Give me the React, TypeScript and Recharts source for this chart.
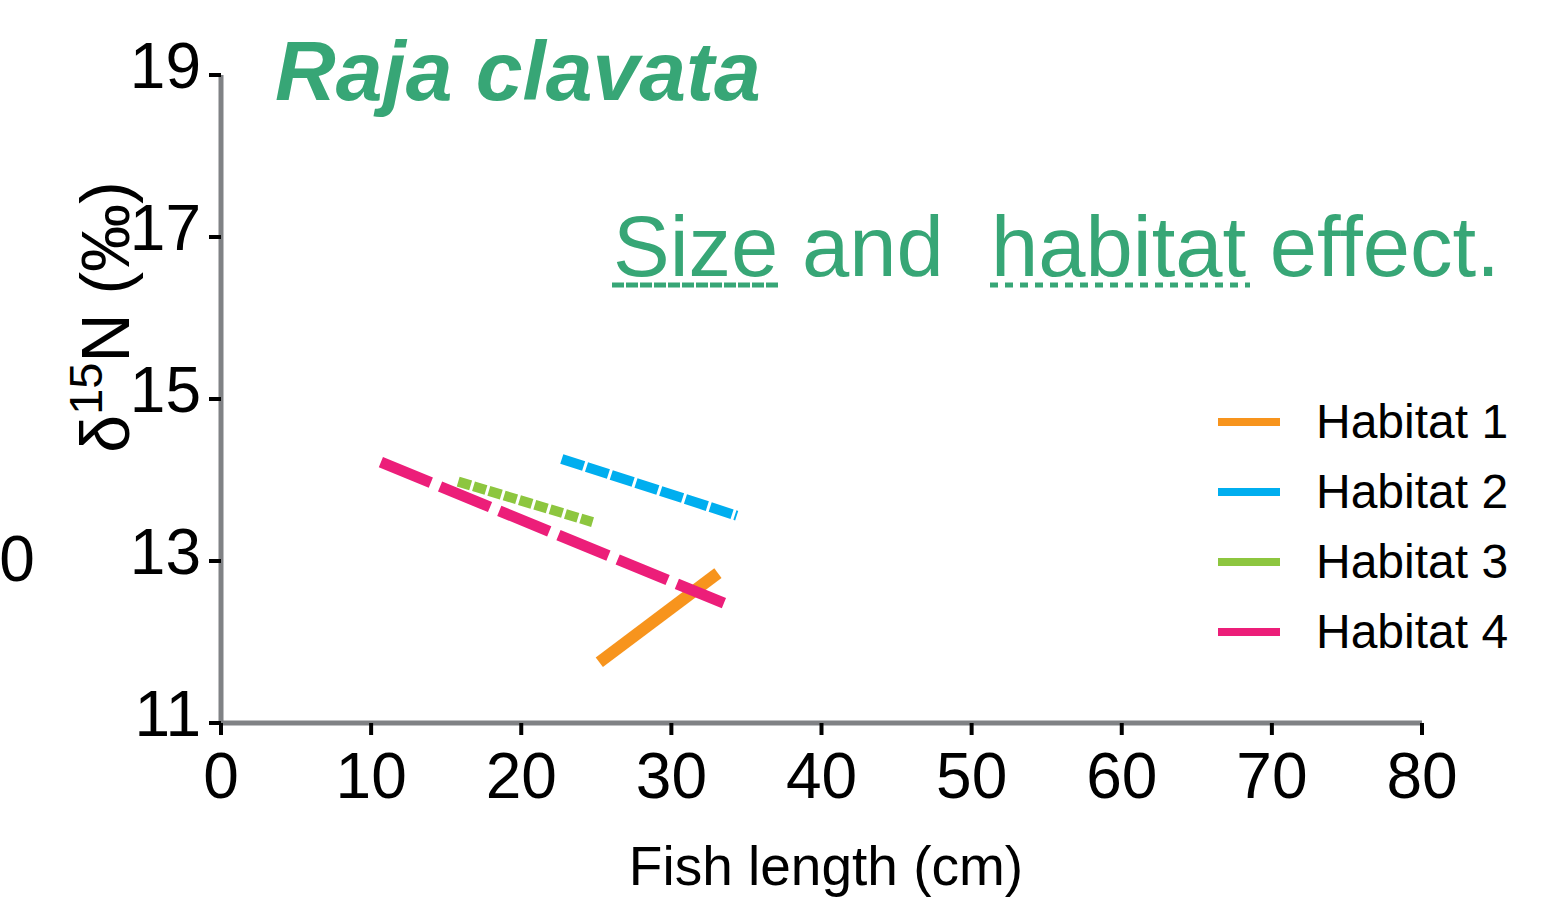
import * as React from 'react';
import { LineChart, Line, XAxis, YAxis, Legend } from 'recharts';

const FONT = '"Liberation Sans", Arial, Helvetica, sans-serif';
const GREEN = '#37A676';

// regression lines, two end points each (length cm, d15N)
const habitat1 = [
	{ x: 25.2, y: 11.75 },
	{ x: 33.1, y: 12.85 }
];
const habitat2 = [
	{ x: 22.7, y: 14.26 },
	{ x: 34.35, y: 13.56 }
];
const habitat3 = [
	{ x: 15.8, y: 13.98 },
	{ x: 24.75, y: 13.48 }
];
const habitat4 = [
	{ x: 10.65, y: 14.22 },
	{ x: 33.5, y: 12.48 }
];

const xTicks = [0, 10, 20, 30, 40, 50, 60, 70, 80];
const yTicks = [11, 13, 15, 17, 19];

const series = [
	{ name: 'Habitat 1', data: habitat1, color: '#F7941D', width: 12, dash: undefined },
	{ name: 'Habitat 2', data: habitat2, color: '#00AEEF', width: 10, dash: '23 3' },
	{ name: 'Habitat 3', data: habitat3, color: '#8DC63F', width: 10, dash: '13 3' },
	{ name: 'Habitat 4', data: habitat4, color: '#EC1E79', width: 11, dash: '54 10' }
];

const YTick = (props: any) => {
	const { x, y, payload } = props;
	return (
		<text x={x} y={y - 9} textAnchor="end" dominantBaseline="central" fontSize={64} fontFamily={FONT} fill="#000">
			{payload.value}
		</text>
	);
};

const XTick = (props: any) => {
	const { x, y, payload } = props;
	return (
		<text x={x} y={y + 63} textAnchor="middle" fontSize={64} fontFamily={FONT} fill="#000">
			{payload.value}
		</text>
	);
};

const renderLegend = () => (
	<div style={{ fontFamily: FONT }}>
		{series.map(s => (
			<div key={s.name} style={{ height: 70, display: 'flex', alignItems: 'center' }}>
				<svg width={62} height={10} style={{ marginRight: 36 }}>
					<line x1={0} y1={5} x2={62} y2={5} stroke={s.color} strokeWidth={8} />
				</svg>
				<span style={{ fontSize: 48, color: '#000', lineHeight: '70px' }}>{s.name}</span>
			</div>
		))}
	</div>
);

export default function App() {
	return (
		<div style={{ position: 'absolute', left: 0, top: 0, width: 1555, height: 900, background: '#fff' }}>
			<LineChart width={1555} height={900} margin={{ top: 75, right: 133, bottom: 77, left: 121 }}>
				<XAxis
					type="number"
					dataKey="x"
					domain={[0, 80]}
					ticks={xTicks}
					interval={0}
					height={100}
					tickSize={12}
					tickMargin={0}
					axisLine={{ stroke: '#808285', strokeWidth: 5 }}
					tickLine={{ stroke: '#000', strokeWidth: 4 }}
					tick={<XTick />}
				/>
				<YAxis
					type="number"
					dataKey="y"
					domain={[11, 19]}
					ticks={yTicks}
					interval={0}
					width={100}
					tickSize={12}
					tickMargin={8}
					axisLine={{ stroke: '#808285', strokeWidth: 5 }}
					tickLine={{ stroke: '#000', strokeWidth: 4 }}
					tick={<YTick />}
				/>
				<Legend
					layout="horizontal"
					align="center"
					verticalAlign="middle"
					content={renderLegend}
					wrapperStyle={{ left: 1218, top: 387, width: 330 }}
				/>
				{series.map(s => (
					<Line
						key={s.name}
						name={s.name}
						data={s.data}
						dataKey="y"
						type="linear"
						stroke={s.color}
						strokeWidth={s.width}
						strokeDasharray={s.dash}
						strokeLinecap="butt"
						dot={false}
						activeDot={false}
						isAnimationActive={false}
					/>
				))}
			</LineChart>
			<svg
				width={1555}
				height={900}
				style={{ position: 'absolute', left: 0, top: 0, pointerEvents: 'none' }}
				fontFamily={FONT}
			>
				<text x={275} y={100} fontSize={84} fontWeight="bold" fontStyle="italic" fill={GREEN}>
					Raja clavata
				</text>
				<text x={613} y={276} fontSize={85} fill={GREEN} style={{ whiteSpace: 'pre' }}>
					{'Size and  habitat effect.'}
				</text>
				<line x1={612} y1={285} x2={780} y2={285} stroke={GREEN} strokeWidth={5} strokeDasharray="12 2" />
				<line x1={990} y1={285} x2={1250} y2={285} stroke={GREEN} strokeWidth={5} strokeDasharray="8 7" />
				<text transform="translate(129,317) rotate(-90)" textAnchor="middle" fontSize={68} fill="#000">
					δ
					<tspan dy={-27} fontSize={47}>
						15
					</tspan>
					<tspan dy={27}>N (‰)</tspan>
				</text>
				<text x={17} y={581} textAnchor="middle" fontSize={64} fill="#000">
					0
				</text>
				<text x={826} y={885} textAnchor="middle" fontSize={55} fill="#000">
					Fish length (cm)
				</text>
			</svg>
		</div>
	);
}
